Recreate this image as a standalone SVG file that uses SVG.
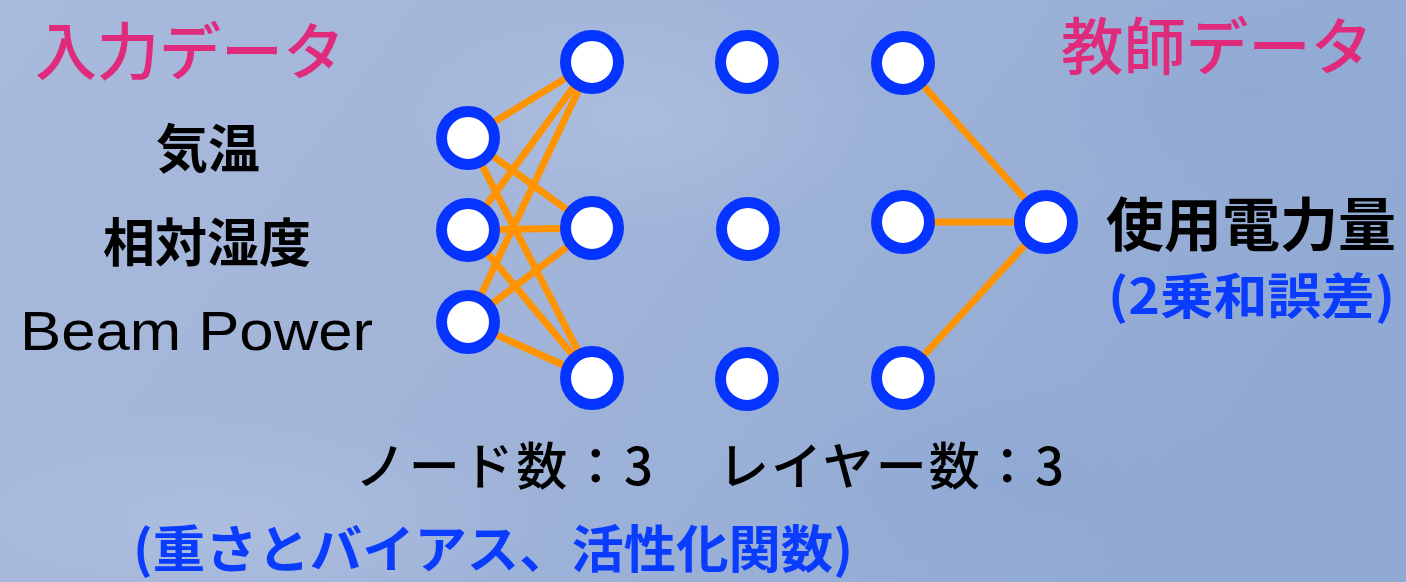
<svg xmlns="http://www.w3.org/2000/svg" width="1406" height="582" viewBox="0 0 1406 582">
<defs>
<linearGradient id="bg" x1="0" y1="0" x2="1" y2="0.3">
<stop offset="0" stop-color="#a8badc"/>
<stop offset="0.45" stop-color="#a2b5d9"/>
<stop offset="1" stop-color="#91aad4"/>
</linearGradient>
<radialGradient id="blob1" cx="0.5" cy="0.5" r="0.5">
<stop offset="0" stop-color="#b3c3e2" stop-opacity="0.6"/>
<stop offset="1" stop-color="#b3c3e2" stop-opacity="0"/>
</radialGradient>
<radialGradient id="blob2" cx="0.5" cy="0.5" r="0.5">
<stop offset="0" stop-color="#8ca7d3" stop-opacity="0.5"/>
<stop offset="1" stop-color="#8ca7d3" stop-opacity="0"/>
</radialGradient>
</defs>
<style>
.node{fill:#ffffff;stroke:#0533ff;stroke-width:11}
.edge{stroke:#ff9300;stroke-width:7;stroke-linecap:butt}
.jp{font-family:"Noto Sans CJK JP","Noto Sans",sans-serif}
.title{font-size:62px;fill:#e02a7c;font-weight:500}
.lbl{font-size:52px;fill:#000;font-weight:bold}
.cnt{font-size:51px;fill:#000;font-weight:500}
.blue{fill:#0a3cff;font-weight:bold}
</style>
<rect x="0" y="0" width="1406" height="582" fill="url(#bg)"/>
<ellipse cx="220" cy="520" rx="320" ry="110" fill="url(#blob1)"/>
<ellipse cx="640" cy="120" rx="240" ry="120" fill="url(#blob1)"/>
<ellipse cx="1250" cy="90" rx="220" ry="120" fill="url(#blob2)"/>
<ellipse cx="1000" cy="480" rx="260" ry="110" fill="url(#blob2)"/>

<g id="connectors">
<line class="edge" x1="468" y1="138" x2="592" y2="62"/>
<line class="edge" x1="468" y1="138" x2="592" y2="228"/>
<line class="edge" x1="468" y1="138" x2="592" y2="378"/>
<line class="edge" x1="468" y1="230" x2="592" y2="62"/>
<line class="edge" x1="468" y1="230" x2="592" y2="228"/>
<line class="edge" x1="468" y1="230" x2="592" y2="378"/>
<line class="edge" x1="468" y1="322" x2="592" y2="62"/>
<line class="edge" x1="468" y1="322" x2="592" y2="228"/>
<line class="edge" x1="468" y1="322" x2="592" y2="378"/>
<line class="edge" x1="903" y1="63" x2="1046" y2="222"/>
<line class="edge" x1="903" y1="222" x2="1046" y2="222"/>
<line class="edge" x1="903" y1="378" x2="1046" y2="222"/>
</g>

<g id="in1"><circle class="node" cx="468" cy="138" r="26.5"/></g>
<g id="in2"><circle class="node" cx="468" cy="230" r="26.5"/></g>
<g id="in3"><circle class="node" cx="468" cy="322" r="26.5"/></g>
<g id="h1a"><circle class="node" cx="592" cy="62" r="26.5"/></g>
<g id="h1b"><circle class="node" cx="592" cy="228" r="26.5"/></g>
<g id="h1c"><circle class="node" cx="592" cy="378" r="26.5"/></g>
<g id="h2a"><circle class="node" cx="747" cy="62" r="26.5"/></g>
<g id="h2b"><circle class="node" cx="748" cy="229" r="26.5"/></g>
<g id="h2c"><circle class="node" cx="747" cy="379" r="26.5"/></g>
<g id="h3a"><circle class="node" cx="903" cy="63" r="26.5"/></g>
<g id="h3b"><circle class="node" cx="903" cy="222" r="26.5"/></g>
<g id="h3c"><circle class="node" cx="903" cy="378" r="26.5"/></g>
<g id="out"><circle class="node" cx="1046" cy="222" r="26.5"/></g>

<g id="labels">
<text class="jp title" x="35" y="75">入力データ</text>
<text class="jp title" x="1061" y="70" textLength="312" lengthAdjust="spacingAndGlyphs">教師データ</text>
<text class="jp lbl" x="156" y="168">気温</text>
<text class="jp lbl" x="103" y="262">相対湿度</text>
<text x="20" y="350" font-family="'Liberation Sans',Arial,sans-serif" font-size="56" fill="#000" textLength="353" lengthAdjust="spacingAndGlyphs">Beam Power</text>
<text class="jp" x="1106" y="246" font-size="58" font-weight="bold" fill="#000">使用電力量</text>
<text class="jp blue" x="1108" y="314" font-size="49" textLength="287" lengthAdjust="spacingAndGlyphs">(2乗和誤差)</text>
<text class="jp cnt" x="355" y="485" textLength="298" lengthAdjust="spacing">ノード数：3</text>
<text class="jp cnt" x="718" y="485" textLength="346" lengthAdjust="spacing">レイヤー数：3</text>
<text class="jp blue" x="133" y="568" font-size="51" textLength="720" lengthAdjust="spacingAndGlyphs">(重さとバイアス、活性化関数)</text>
</g>
</svg>
